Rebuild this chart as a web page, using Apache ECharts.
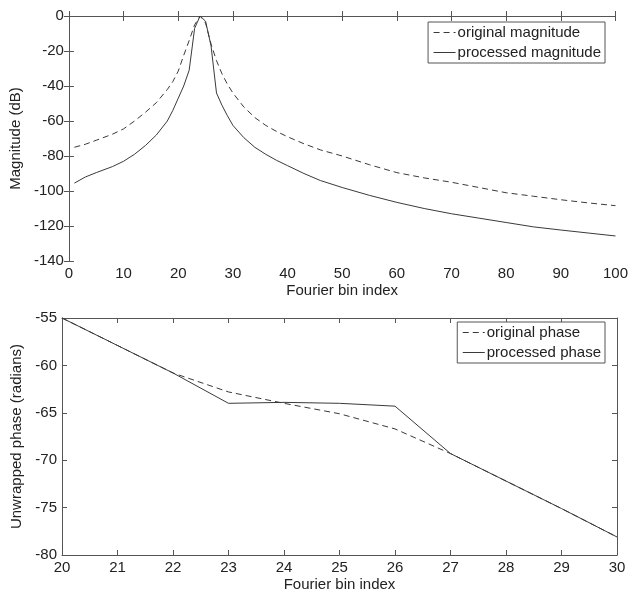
<!DOCTYPE html>
<html>
<head>
<meta charset="utf-8">
<script src="https://cdn.jsdelivr.net/npm/echarts@6/dist/echarts.min.js"></script>
<style>
  html, body { margin: 0; padding: 0; background: #fff; }
  #main { width: 631px; height: 593px; }
</style>
</head>
<body>
<div id="main"></div>
<script>
// magnitude plot (bins 1..100)
var magBins = [1, 3, 5, 8, 10, 12, 14, 16, 18, 19, 20, 21, 22, 23, 24, 25, 26, 27, 28, 29, 30, 32, 34, 36, 38, 40, 43, 46, 50, 55, 60, 65, 70, 75, 80, 85, 90, 95, 100];
var origMag = [-75, -73.3, -71, -67.5, -64.5, -60, -55, -49.5, -42, -37.5, -31.5, -22.5, -14, -5, 0, -4, -16, -25.5, -33, -39, -44, -52, -58, -62.5, -66, -69, -73, -76.5, -80, -85, -89.5, -92.5, -95, -98, -101, -103, -105, -106.8, -108.4];
var procMag = [-95.5, -92, -89.5, -86, -83, -79, -74, -68, -60, -54, -47, -40, -31, -7, 0, -3, -17, -44, -51, -57, -62.5, -69.5, -75, -79, -82.5, -85.5, -90, -94, -98, -102.5, -106.5, -110, -113, -115.5, -118, -120.5, -122.3, -124, -125.7];

// phase plot (bins 20..30)
var phaseBins = [20, 21, 22, 23, 24, 25, 26, 27, 28, 29, 30];
var origPhase = [-55, -57.9, -60.8, -62.8, -64, -65.1, -66.7, -69.3, -72.2, -75.1, -78.1];
var procPhase = [-55, -57.9, -60.8, -64, -63.9, -64, -64.3, -69.3, -72.2, -75.1, -78.1];

var ink = '#222';
var lineColor = '#3a3a3a';
var font = 'Liberation Sans, Arial, Helvetica, sans-serif';

function pairs(xs, ys) {
  return xs.map(function (x, i) { return [x, ys[i]]; });
}

function mainX(grid, min, max, step) {
  return {
    type: 'value', gridIndex: grid, min: min, max: max, interval: step,
    name: 'Fourier bin index', nameLocation: 'middle', nameGap: 22,
    nameTextStyle: { color: ink, fontSize: 15, fontFamily: font },
    axisLine: { lineStyle: { color: '#555' } },
    axisTick: { inside: true, length: 5, lineStyle: { color: '#555' } },
    axisLabel: { color: ink, fontSize: 15, fontFamily: font, margin: 5 },
    splitLine: { show: false }
  };
}
function mirrorX(grid, min, max, step) {
  return {
    type: 'value', gridIndex: grid, position: 'top', min: min, max: max, interval: step,
    axisLine: { lineStyle: { color: '#555' } },
    axisTick: { inside: true, length: 5, lineStyle: { color: '#555' } },
    axisLabel: { show: false }, splitLine: { show: false }
  };
}
function mainY(grid, min, max, step, name, gap) {
  return {
    type: 'value', gridIndex: grid, min: min, max: max, interval: step,
    name: name, nameLocation: 'middle', nameGap: gap,
    nameTextStyle: { color: ink, fontSize: 15, fontFamily: font },
    axisLine: { show: true, lineStyle: { color: '#555' } },
    axisTick: { show: true, inside: true, length: 5, lineStyle: { color: '#555' } },
    axisLabel: { color: ink, fontSize: 15, fontFamily: font, margin: 5 },
    splitLine: { show: false }
  };
}
function mirrorY(grid, min, max, step) {
  return {
    type: 'value', gridIndex: grid, position: 'right', min: min, max: max, interval: step,
    axisLine: { show: true, lineStyle: { color: '#555' } },
    axisTick: { show: true, inside: true, length: 5, lineStyle: { color: '#555' } },
    axisLabel: { show: false }, splitLine: { show: false }
  };
}
function legendBox(names, top) {
  return {
    data: names, orient: 'vertical', right: 26, top: top,
    itemWidth: 22, itemHeight: 12, itemGap: 3,
    padding: [2, 4, 2, 5],
    borderColor: '#555', borderWidth: 1, backgroundColor: '#fff',
    itemStyle: { color: 'rgba(0,0,0,0)', borderWidth: 0 },
    lineStyle: { width: 1 },
    textStyle: { color: ink, fontSize: 15, fontFamily: font, lineHeight: 17, padding: [0, 0, 0, -3] }
  };
}
function series(name, x, y, grid, dashed) {
  return {
    name: name, type: 'line', xAxisIndex: grid * 2, yAxisIndex: grid * 2,
    data: pairs(x, y), showSymbol: false, symbol: 'none',
    lineStyle: { color: lineColor, width: 1, type: dashed ? [6, 4] : 'solid' },
    itemStyle: { color: lineColor }
  };
}

var chart = echarts.init(document.getElementById('main'));
chart.setOption({
  animation: false,
  backgroundColor: '#fff',
  grid: [
    { left: 62, right: 14, top: 16, height: 245 },
    { left: 62, right: 14, top: 318, height: 243 }
  ],
  xAxis: [
    mainX(0, 0, 100, 10), mirrorX(0, 0, 100, 10),
    mainX(1, 20, 30, 1), mirrorX(1, 20, 30, 1)
  ],
  yAxis: [
    mainY(0, -140, 0, 20, 'Magnitude (dB)', 36), mirrorY(0, -140, 0, 20),
    mainY(1, -80, -55, 5, 'Unwrapped phase (radians)', 29), mirrorY(1, -80, -55, 5)
  ],
  legend: [
    legendBox(['original magnitude', 'processed magnitude'], 22),
    legendBox(['original phase', 'processed phase'], 322)
  ],
  series: [
    series('original magnitude', magBins, origMag, 0, true),
    series('processed magnitude', magBins, procMag, 0, false),
    series('original phase', phaseBins, origPhase, 1, true),
    series('processed phase', phaseBins, procPhase, 1, false)
  ]
});
</script>
</body>
</html>
